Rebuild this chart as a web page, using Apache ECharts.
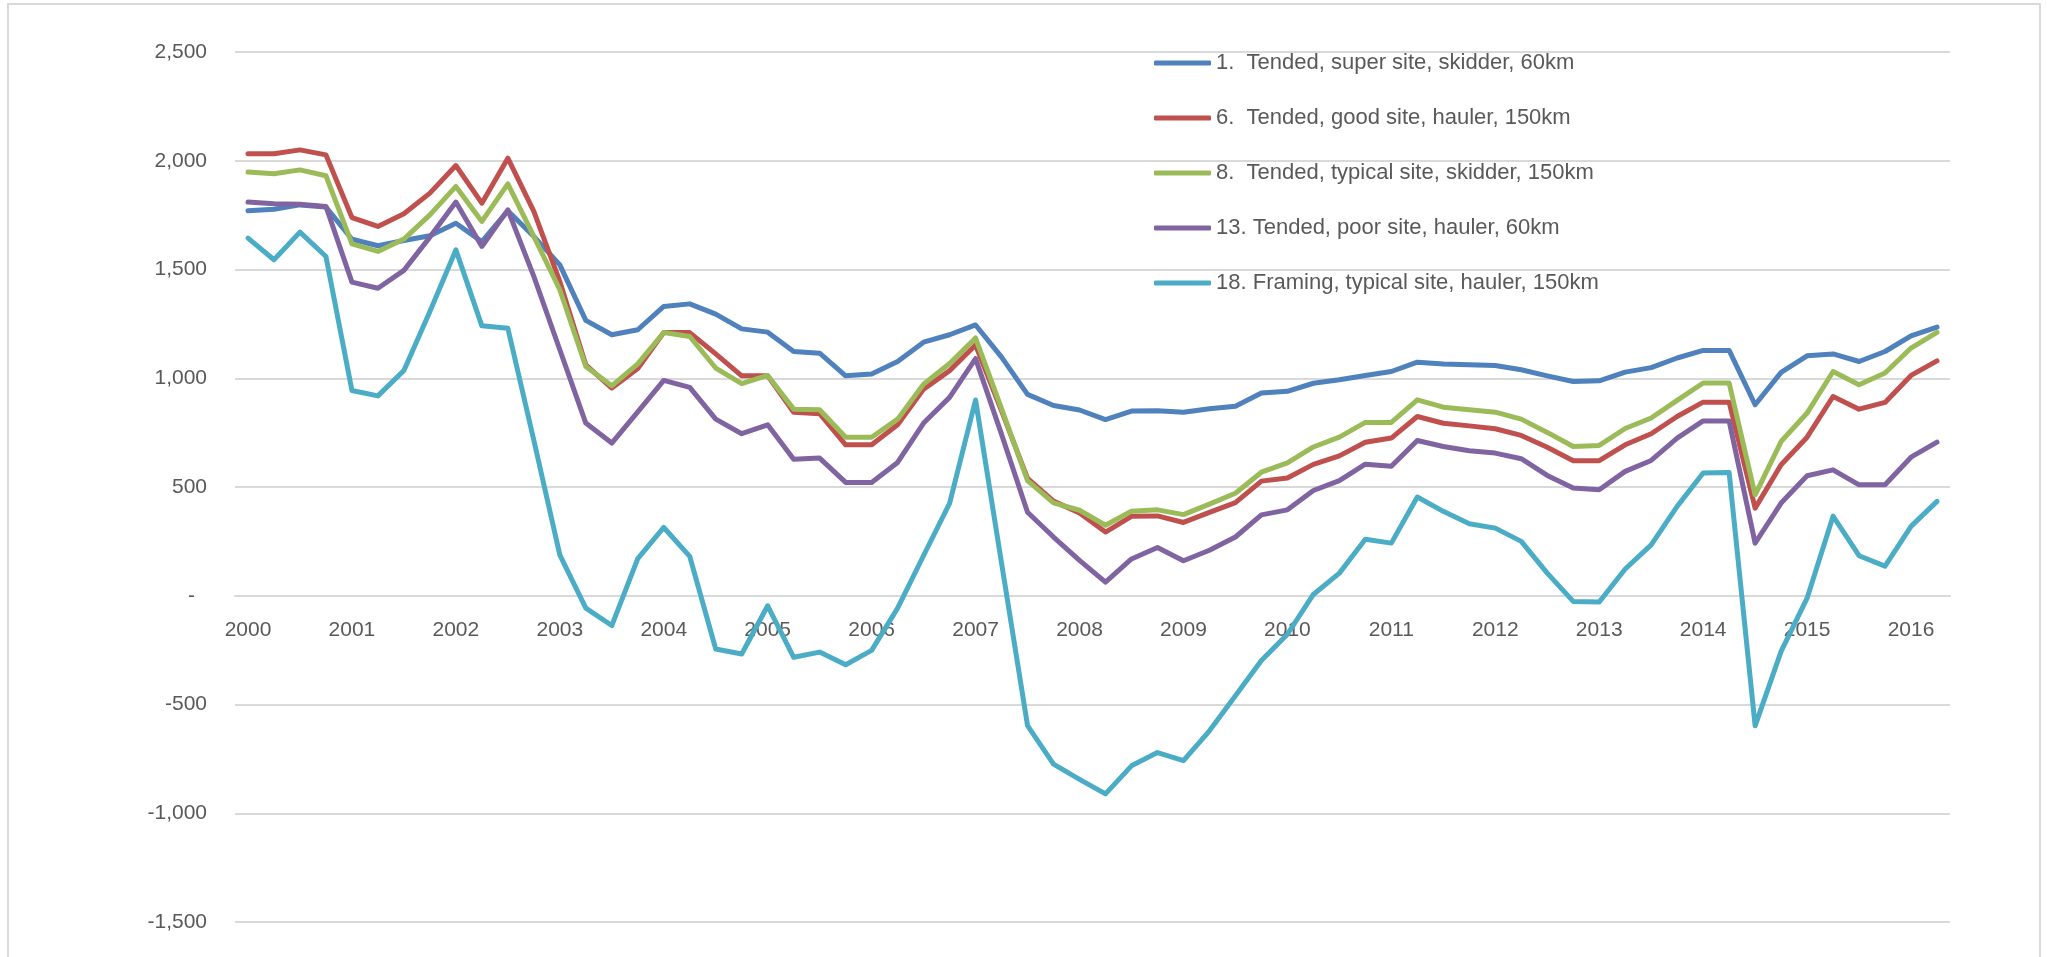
<!DOCTYPE html>
<html>
<head>
<meta charset="utf-8">
<script src="https://cdn.jsdelivr.net/npm/echarts@6/dist/echarts.min.js"></script>
<style>
html,body{margin:0;padding:0;background:#fff;}
#chart{width:2047px;height:957px;}
</style>
</head>
<body>
<div id="chart"></div>
<script>
const categories = [
 '2000 Q1','2000 Q2','2000 Q3','2000 Q4','2001 Q1','2001 Q2','2001 Q3','2001 Q4',
 '2002 Q1','2002 Q2','2002 Q3','2002 Q4','2003 Q1','2003 Q2','2003 Q3','2003 Q4',
 '2004 Q1','2004 Q2','2004 Q3','2004 Q4','2005 Q1','2005 Q2','2005 Q3','2005 Q4',
 '2006 Q1','2006 Q2','2006 Q3','2006 Q4','2007 Q1','2007 Q2','2007 Q3','2007 Q4',
 '2008 Q1','2008 Q2','2008 Q3','2008 Q4','2009 Q1','2009 Q2','2009 Q3','2009 Q4',
 '2010 Q1','2010 Q2','2010 Q3','2010 Q4','2011 Q1','2011 Q2','2011 Q3','2011 Q4',
 '2012 Q1','2012 Q2','2012 Q3','2012 Q4','2013 Q1','2013 Q2','2013 Q3','2013 Q4',
 '2014 Q1','2014 Q2','2014 Q3','2014 Q4','2015 Q1','2015 Q2','2015 Q3','2015 Q4',
 '2016 Q1','2016 Q2'
];

const seriesNames = [
 '1.  Tended, super site, skidder, 60km',
 '6.  Tended, good site, hauler, 150km',
 '8.  Tended, typical site, skidder, 150km',
 '13. Tended, poor site, hauler, 60km',
 '18. Framing, typical site, hauler, 150km'
];

const seriesColors = ['#4F81BD', '#C0504D', '#9BBB59', '#8064A2', '#4BACC6'];

const superSkidder60 = [
 1770,1777,1797,1787,1639,1609,1633,1655,1713,1628,1770,1652,1521,1266,1200,1223,
 1330,1342,1295,1227,1212,1123,1115,1011,1019,1077,1166,1200,1245,1097,926,875,
 854,810,849,851,844,860,871,932,940,977,993,1013,1031,1074,1065,1062,
 1059,1039,1011,985,988,1028,1049,1093,1128,1128,878,1027,1103,1112,1077,1123,
 1195,1235
];

const goodHauler150 = [
 2032,2032,2050,2027,1739,1698,1756,1851,1978,1805,2012,1767,1445,1062,955,1045,
 1210,1210,1112,1011,1011,844,837,694,694,786,950,1035,1153,850,540,435,
 380,293,365,367,337,383,428,527,541,604,643,706,725,824,793,781,
 768,737,683,621,621,694,745,824,890,890,403,602,729,916,858,889,
 1013,1080
];

const typicalSkidder150 = [
 1948,1940,1958,1931,1618,1583,1640,1751,1882,1721,1894,1652,1407,1054,965,1066,
 1210,1192,1047,975,1013,858,855,729,729,812,973,1068,1185,860,529,427,
 393,324,389,395,373,421,471,568,611,684,729,797,797,901,867,855,
 844,812,751,686,691,769,817,898,978,978,464,709,840,1031,970,1024,
 1139,1211
];

const poorHauler60 = [
 1810,1802,1800,1790,1442,1414,1496,1649,1810,1606,1774,1468,1131,794,702,845,
 990,958,812,745,786,628,633,521,521,613,794,912,1090,742,384,270,
 163,63,169,222,161,209,270,372,395,484,529,605,595,714,686,667,
 656,630,553,495,487,572,622,725,804,804,242,426,552,579,510,510,
 637,706
];

const framingHauler150 = [
 1644,1545,1672,1560,944,919,1036,1307,1590,1241,1230,715,188,-57,-137,171,
 314,181,-245,-268,-46,-283,-259,-317,-251,-57,185,425,900,150,-597,-774,
 -844,-911,-782,-721,-758,-621,-460,-298,-177,6,104,260,242,454,388,331,
 311,250,104,-26,-29,123,234,411,564,567,-598,-256,-11,366,184,136,
 319,434
];

const yMin = -1500, yMax = 2500, yStep = 500;

const seriesData = [superSkidder60, goodHauler150, typicalSkidder150, poorHauler60, framingHauler150];

const FONT = 'Liberation Sans';
const TEXT = '#595959';
const GRID = '#D9D9D9';

const GRID_TOP = 52, GRID_BOTTOM = 35, H = 957;
const plotH = H - GRID_TOP - GRID_BOTTOM;
// distance from the bottom of the plot to the zero line, so the year labels sit at zero like the original
const zeroOffset = plotH * (0 - yMin) / (yMax - yMin);

const chart = echarts.init(document.getElementById('chart'), null, {renderer: 'canvas'});

const option = {
  animation: false,
  backgroundColor: '#ffffff',
  graphic: [{
    type: 'rect', silent: true, z: -10,
    shape: {x: 8, y: 4, width: 2032, height: 990},
    style: {fill: 'none', stroke: GRID, lineWidth: 2}
  }],
  grid: {left: 235, right: 97, top: GRID_TOP, bottom: GRID_BOTTOM},
  legend: {
    orient: 'vertical',
    left: 1149, top: 46,
    itemWidth: 57, itemHeight: 5, itemGap: 31,
    icon: 'roundRect',
    data: seriesNames,
    textStyle: {fontFamily: FONT, fontSize: 22, color: TEXT, lineHeight: 24}
  },
  xAxis: {
    type: 'category',
    data: categories,
    boundaryGap: true,
    offset: -zeroOffset,
    axisLine: {show: true, onZero: false, lineStyle: {color: GRID, width: 2}},
    axisTick: {show: false},
    splitLine: {show: false},
    axisLabel: {
      interval: 3, margin: 24,
      fontFamily: FONT, fontSize: 21, color: TEXT,
      formatter: v => v.slice(0, 4)
    }
  },
  yAxis: {
    type: 'value',
    min: yMin, max: yMax, interval: yStep,
    axisLine: {show: false},
    axisTick: {show: false},
    splitLine: {lineStyle: {color: GRID, width: 2}},
    axisLabel: {
      margin: 28,
      fontFamily: FONT, fontSize: 21, color: TEXT,
      formatter: v => v === 0 ? '{z|-}' : (v < 0 ? '-' : '') + Math.abs(v).toLocaleString('en-US'),
      rich: {z: {fontFamily: FONT, fontSize: 21, color: TEXT, padding: [0, 12, 0, 0]}}
    }
  },
  series: seriesNames.map((name, k) => ({
    name: name,
    type: 'line',
    data: seriesData[k],
    symbol: 'none',
    smooth: false,
    lineStyle: {width: 5, color: seriesColors[k], join: 'round', cap: 'round'},
    itemStyle: {color: seriesColors[k]},
    z: 2 + k
  }))
};

chart.setOption(option);
</script>
</body>
</html>
